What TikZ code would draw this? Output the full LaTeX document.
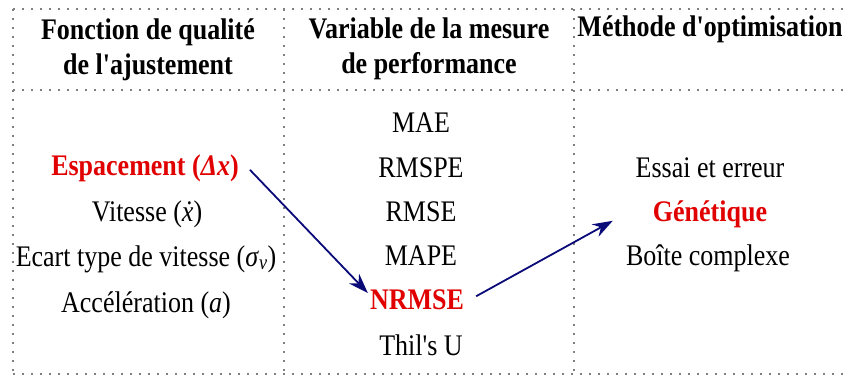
\documentclass[tikz,border=0pt]{standalone}
\usepackage{fontspec}
\setmainfont{Liberation Serif}[Ligatures=TeXOff,FakeStretch=0.87]
\usetikzlibrary{arrows.meta,positioning,calc}
\definecolor{gridgray}{HTML}{808080}
\definecolor{hilite}{HTML}{E00000}
\definecolor{arrblue}{HTML}{0A0A78}

\begin{document}
\begin{tikzpicture}[x=1bp,y=-1bp,every node/.style={font=\fontsize{30}{35}\selectfont,inner sep=1pt,anchor=base},>={Stealth[length=20bp,width=14bp]}]
  \useasboundingbox (0,0) rectangle (844,378);
  \tikzset{
    grid/.style={gridgray,line width=2.4bp,dash pattern=on 2.4bp off 6.6bp},
    head/.style={font=\fontsize{30}{35}\selectfont\bfseries,align=center},
    pick/.style={hilite,font=\fontsize{30}{35}\selectfont\bfseries},
    link/.style={arrblue,->,line width=1.8bp}}
  % dotted table
  \foreach \y in {9,90,374}
    \draw[grid] (13,\y) -- (844,\y);
  \foreach \x in {13,284,574}
    \draw[grid] (\x,9) -- (\x,374);
  % headers (base = last line)
  \node[head] (hfit) at (148,74) {Fonction de qualité\\de l'ajustement};
  \node[head] (hmes) at (429,73) {Variable de la mesure\\de performance};
  \node[head] (hopt) at (710,36) {Méthode d'optimisation};
  % fitness functions
  \node[pick] (esp) at (145,175) {Espacement (\textit{Δx})};
  \node (vit) at (147,221) {Vitesse (\textit{\.{x}})};
  \node (ect) at (146,266) {Ecart type de vitesse (\textit{σ}\textsubscript{\textit{v}})};
  \node (acc) at (146,312) {Accélération (\textit{a})};
  % performance measures
  \node (mae) at (421,132) {MAE};
  \node (rmspe) at (421,177) {RMSPE};
  \node (rmse) at (421,221) {RMSE};
  \node (mape) at (421,265) {MAPE};
  \node[pick] (nrmse) at (417,309) {NRMSE};
  \node (thil) at (421,355) {Thil's U};
  % optimisation methods
  \node (essai) at (710,177) {Essai et erreur};
  \node[pick] (gen) at (710,221) {Génétique};
  \node (boite) at (708,265) {Boîte complexe};
  % choices
  \draw[link] ([xshift=10bp,yshift=-2bp]esp.east) -- ([xshift=-1bp,yshift=-5bp]nrmse.north west);
  \draw[link] ([xshift=11bp,yshift=3bp]nrmse.east) -- ([xshift=-39bp,yshift=-7bp]gen.west);
\end{tikzpicture}
\end{document}
